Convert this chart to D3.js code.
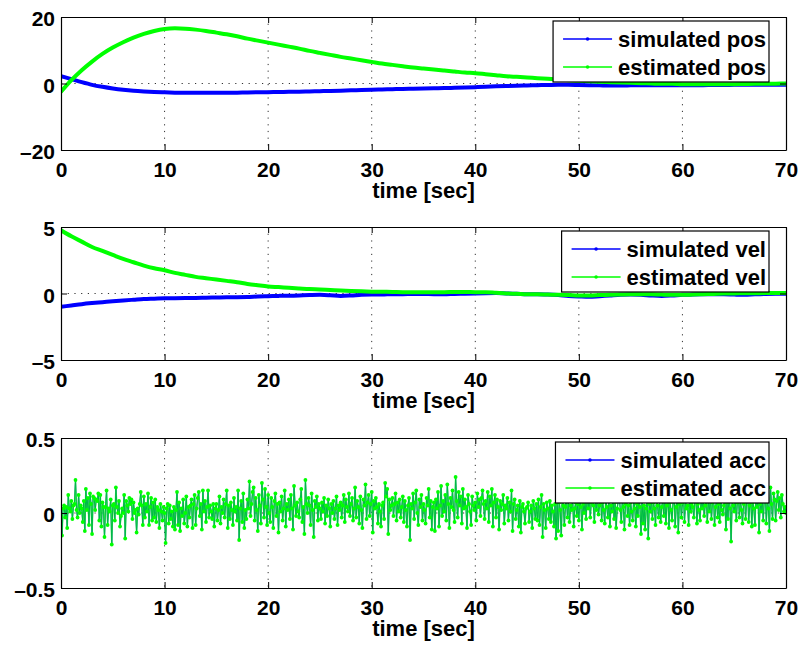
<!DOCTYPE html>
<html>
<head>
<meta charset="utf-8">
<script src="https://cdn.jsdelivr.net/npm/d3@7"></script>
<style>
  html, body { margin: 0; padding: 0; background: #fff; }
  svg { display: block; }
</style>
</head>
<body>
<svg id="chart" width="802" height="648"></svg>
<script>
// ---- data ----------------------------------------------------------------
const xTicks = [0, 10, 20, 30, 40, 50, 60, 70];
const posTicks = [-20, 0, 20];
const velTicks = [-5, 0, 5];
const accTicks = [-0.5, 0, 0.5];

// position / velocity, one sample per second (t = 0 .. 70 s)
const slowStep = 1;
const posSimulated = [2.2, 1.3, 0.4, -0.4, -1.0, -1.5, -1.9, -2.2, -2.4, -2.55,
  -2.65, -2.75, -2.8, -2.8, -2.8, -2.8, -2.8, -2.75, -2.7, -2.65,
  -2.6, -2.55, -2.5, -2.45, -2.4, -2.3, -2.25, -2.15, -2.05, -1.95,
  -1.85, -1.8, -1.7, -1.65, -1.55, -1.5, -1.45, -1.35, -1.3, -1.2,
  -1.1, -1.0, -0.85, -0.75, -0.65, -0.6, -0.5, -0.45, -0.4, -0.4,
  -0.45, -0.5, -0.55, -0.6, -0.6, -0.55, -0.5, -0.5, -0.5, -0.5,
  -0.5, -0.5, -0.5, -0.45, -0.45, -0.4, -0.4, -0.4, -0.35, -0.35, -0.35];
const posEstimated = [-2.5, 1.0, 4.0, 6.6, 8.9, 10.8, 12.4, 13.8, 14.9, 15.8,
  16.4, 16.6, 16.5, 16.2, 15.8, 15.3, 14.8, 14.2, 13.5, 12.9,
  12.3, 11.7, 11.1, 10.5, 9.8, 9.2, 8.6, 8.0, 7.5, 7.0,
  6.5, 6.0, 5.6, 5.2, 4.8, 4.5, 4.2, 3.9, 3.6, 3.3,
  3.1, 2.8, 2.5, 2.2, 2.0, 1.8, 1.6, 1.4, 1.2, 1.0,
  0.8, 0.7, 0.5, 0.4, 0.3, 0.2, 0.1, 0.0, -0.1, -0.1,
  -0.2, -0.2, -0.2, -0.2, -0.2, -0.2, -0.15, -0.1, -0.1, -0.05, 0.0];
const velSimulated = [-1.0, -0.9, -0.8, -0.72, -0.65, -0.58, -0.52, -0.47, -0.42, -0.39,
  -0.36, -0.35, -0.34, -0.33, -0.32, -0.3, -0.28, -0.28, -0.27, -0.22,
  -0.2, -0.18, -0.17, -0.15, -0.12, -0.1, -0.13, -0.18, -0.15, -0.1,
  -0.08, -0.08, -0.05, -0.05, -0.03, -0.04, -0.05, -0.06, -0.03, -0.02,
  0.0, 0.02, 0.03, 0.0, -0.02, -0.05, -0.05, -0.08, -0.12, -0.18,
  -0.22, -0.25, -0.2, -0.15, -0.1, -0.08, -0.1, -0.15, -0.18, -0.15,
  -0.1, -0.08, -0.06, -0.05, -0.05, -0.08, -0.1, -0.06, -0.03, -0.02, -0.02];
const velEstimated = [4.75, 4.3, 3.9, 3.5, 3.2, 2.9, 2.6, 2.35, 2.1, 1.9,
  1.75, 1.55, 1.4, 1.25, 1.15, 1.05, 0.95, 0.85, 0.72, 0.62,
  0.53, 0.48, 0.43, 0.38, 0.33, 0.3, 0.26, 0.23, 0.19, 0.16,
  0.14, 0.13, 0.12, 0.1, 0.1, 0.1, 0.1, 0.1, 0.12, 0.12,
  0.1, 0.1, 0.05, 0.0, -0.02, -0.05, -0.05, -0.08, -0.1, -0.12,
  -0.15, -0.15, -0.12, -0.1, -0.08, -0.05, -0.05, -0.05, -0.08, -0.1,
  -0.1, -0.08, -0.05, -0.03, 0.0, 0.0, 0.02, 0.02, 0.03, 0.03, 0.03];

// acceleration, 10 samples per second (t = 0 .. 70 s)
const fastStep = 0.1;
const accSimulated = [
  -.02,-.15,.03,.05,-.03,.04,-.10,.12,.03,.01,
  .08,-.04,.05,.06,.22,.02,-.03,.12,.00,.05,
  .03,-.06,.08,-.12,.16,.02,.10,-.08,.13,.06,
  -.14,.11,.10,.02,.09,.08,.13,-.05,.12,-.09,
  .07,.04,-.16,.04,.15,-.08,.03,.01,.09,-.21,
  .05,.06,-.05,.17,.04,.00,.08,-.09,-.02,.03,
  .00,.12,-.17,.08,.05,.01,.10,.06,.09,-.04,
  .07,.00,.02,-.13,.03,-.01,.06,.14,.05,-.08,
  .11,-.03,.06,.01,.13,-.08,.04,.10,-.05,.07,
  -.03,.09,-.06,.04,.02,-.10,.06,.01,-.05,.04,
  .00,-.20,.03,.06,-.07,.05,-.04,.01,-.09,.04,
  -.11,.02,.14,-.08,.07,-.12,.03,-.02,.09,-.07,
  .00,.11,-.09,.04,-.03,.05,.09,-.10,.06,.12,
  -.08,.03,.10,.14,-.02,.06,-.11,.15,.01,.08,
  -.06,.04,.15,-.03,.05,.01,-.04,.06,-.09,.03,
  .06,-.05,.02,.11,-.07,.04,.00,.09,-.03,.06,
  .15,-.10,.05,-.04,.07,.02,-.08,.10,.01,.04,
  -.05,.15,-.18,.03,.08,-.06,.13,-.10,.02,-.04,
  .09,.03,.21,-.02,.06,.14,.17,-.05,.10,.02,
  -.12,.12,.05,-.07,.20,.09,-.03,.16,.04,-.08,
  .12,.00,-.06,.10,.04,-.10,.08,.13,-.02,.06,
  -.13,.07,.01,.11,-.05,.03,.15,-.09,.06,.02,
  .09,-.04,.12,.03,-.11,.18,.05,-.02,.07,.01,
  -.03,.09,.16,-.06,.04,-.14,.22,.06,.00,.10,
  .05,-.08,.13,.02,-.16,.08,.04,.11,-.05,.06,
  .03,-.04,.07,.01,.10,-.07,.05,-.02,.09,.03,
  -.09,.06,.00,.08,-.04,.03,.11,-.08,.05,.02,
  .07,-.03,.05,.12,-.06,.09,.04,.01,.13,-.02,
  .06,.10,-.05,.03,.17,-.03,.08,.04,-.07,.11,
  .02,-.10,.09,.05,.19,-.04,.07,.12,-.02,.06,
  .14,-.13,.08,.03,.10,.04,-.07,.06,.01,-.09,
  .05,.07,-.04,.20,.11,.16,-.14,.09,.02,.05,
  .10,-.02,.06,.13,-.05,.07,.01,.09,-.03,.04,
  .11,-.06,.08,.02,-.09,.05,.10,-.18,.06,.03,
  .13,-.04,.07,.15,.00,-.08,.09,.04,.12,-.05,
  .06,.02,-.07,.10,.05,.16,-.03,.08,-.11,.04,
  .07,-.12,.09,.03,.14,-.09,.05,.18,-.02,.08,
  .01,.12,-.05,.19,.06,-.10,.10,.04,.15,.02,
  -.06,.24,.08,-.03,.14,.05,.11,-.07,.16,.03,
  .09,.04,-.10,.12,.06,.01,-.08,.11,.05,.02,
  .07,-.05,.13,.04,.09,-.02,.10,.15,.06,-.04,
  .08,.03,.14,-.06,.11,.05,.16,-.09,.07,.12,
  -.03,.09,.04,-.11,.08,.02,.06,.12,-.07,.05,
  .03,.10,-.05,.07,.01,.15,-.12,.06,.09,-.04,
  .02,.05,-.09,.08,-.13,.04,.06,.01,-.07,.03,
  .04,.07,-.06,.01,.05,-.10,.08,.03,-.04,.06,
  -.05,.09,-.08,.04,.12,-.16,.06,.02,-.10,.07,
  .03,-.04,.08,-.06,.05,.01,-.09,.06,-.17,.10,
  -.12,.07,.02,-.15,.10,.05,-.08,.04,.11,-.03,
  .08,-.06,.05,.02,.10,-.09,.03,.07,-.02,.06,
  -.05,.10,.04,-.11,.06,.00,.08,-.04,.13,.03,
  .11,-.03,.07,.16,.05,-.06,.09,.02,.12,-.01,
  .05,.14,-.05,.07,.02,-.07,.10,.04,-.03,.08,
  -.09,.05,.01,.11,-.04,.07,-.10,.03,.08,.12,
  .02,-.06,.09,.04,-.11,.06,.13,-.02,.05,-.08,
  .07,.01,-.05,.10,.03,-.09,.06,-.02,.11,.04,
  -.14,.08,-.07,.05,-.11,.03,.09,-.17,.06,.01,
  .10,-.04,.07,.03,-.08,.11,.05,-.03,.08,-.06,
  .04,.09,-.02,.12,-.07,.05,.14,-.10,.07,.02,
  -.05,.08,.11,-.09,.04,.15,-.13,.06,.10,-.03,
  .07,.12,-.06,.09,.03,.05,-.08,.12,.01,.06,
  .04,-.03,.08,.11,-.07,.06,.02,-.05,.09,.03,
  .10,-.02,.05,.13,-.06,.08,.01,.11,-.04,.07,
  .12,-.08,.04,.09,-.03,.06,-.06,.10,.02,-.01,
  .05,.09,-.11,.07,-.04,.12,.03,-.19,.08,.05,
  .01,.10,-.05,.07,.13,-.03,.09,.02,-.07,.06,
  .11,-.04,.08,.14,-.06,.05,.10,-.09,.07,.03,
  -.08,.12,.04,.09,-.13,.06,.01,.11,-.05,.08,
  .15,-.07,.10,.03,-.12,.17,.06,-.04,.13,.09,
  -.05,.08,.14,.02,.10,-.03,.12,.06,.01,.04,
  .00];
// the estimator follows the simulated acceleration sample for sample
const accEstimated = accSimulated.slice();

// ---- drawing ---------------------------------------------------------------
const FONT = "'Liberation Sans', Arial, Helvetica, sans-serif";
const BLUE = "#0000ff", GREEN = "#00ff00";
const svg = d3.select("#chart");

const x = d3.scaleLinear().domain([0, 70]).range([61, 786]);
const fmt = d => (d < 0 ? "\u2013" + Math.abs(d) : String(d));

function panel(opt) {
  const g = svg.append("g");
  const y = d3.scaleLinear().domain(opt.domain).range([opt.bottom, opt.top]);
  const clipId = "clip-" + opt.name;
  g.append("clipPath").attr("id", clipId).append("rect")
    .attr("x", x(0)).attr("y", opt.top).attr("width", x(70) - x(0)).attr("height", opt.bottom - opt.top);

  // dotted grid at interior ticks
  g.selectAll(".vgrid").data(xTicks.slice(1, -1)).join("line")
    .attr("x1", d => x(d)).attr("x2", d => x(d)).attr("y1", opt.top).attr("y2", opt.bottom)
    .attr("stroke", "#333").attr("stroke-width", 1).attr("stroke-dasharray", "1.2,5.5");
  g.selectAll(".hgrid").data(opt.ticks.slice(1, -1)).join("line")
    .attr("x1", x(0)).attr("x2", x(70)).attr("y1", d => y(d)).attr("y2", d => y(d))
    .attr("stroke", "#333").attr("stroke-width", 1).attr("stroke-dasharray", "1.2,5.5");

  // series
  const plot = g.append("g").attr("clip-path", `url(#${clipId})`);
  opt.series.forEach(s => {
    const line = d3.line().x((d, i) => x(i * s.step)).y(d => y(d));
    if (s.curve) line.curve(s.curve);
    plot.append("path").datum(s.values)
      .attr("fill", "none").attr("stroke", s.color).attr("stroke-width", s.width)
      .attr("stroke-opacity", s.opacity || 1)
      .attr("stroke-linejoin", "round").attr("stroke-linecap", "round")
      .attr("d", line);
    if (s.markers) {
      plot.append("g").selectAll("circle").data(s.values).join("circle")
        .attr("cx", (d, i) => x(i * s.step)).attr("cy", d => y(d)).attr("r", 1.9)
        .attr("fill", s.markers);
    }
  });

  // axes with inward ticks on all four sides
  const styleAxis = sel => {
    sel.attr("font-family", FONT).attr("font-size", 21).attr("font-weight", "bold");
    sel.select(".domain").attr("stroke", "#000").attr("stroke-width", 1.2);
    sel.selectAll(".tick line").attr("stroke", "#000");
    sel.selectAll(".tick text").attr("fill", "#000");
  };
  g.append("g").attr("transform", `translate(0,${opt.bottom})`)
    .call(d3.axisBottom(x).tickValues(xTicks).tickFormat(fmt).tickSizeInner(-6).tickSizeOuter(0).tickPadding(12))
    .call(styleAxis);
  g.append("g").attr("transform", `translate(0,${opt.top})`)
    .call(d3.axisTop(x).tickValues(xTicks).tickFormat("").tickSizeInner(-6).tickSizeOuter(0))
    .call(styleAxis);
  g.append("g").attr("transform", `translate(${x(0)},0)`)
    .call(d3.axisLeft(y).tickValues(opt.ticks).tickFormat(fmt).tickSizeInner(-6).tickSizeOuter(0).tickPadding(6))
    .call(styleAxis)
    .selectAll(".tick text").attr("dy", "0.42em");
  g.append("g").attr("transform", `translate(${x(70)},0)`)
    .call(d3.axisRight(y).tickValues(opt.ticks).tickFormat("").tickSizeInner(-6).tickSizeOuter(0))
    .call(styleAxis);

  // x-axis title
  g.append("text").attr("x", (x(0) + x(70)) / 2).attr("y", opt.bottom + 48)
    .attr("text-anchor", "middle").attr("font-family", FONT).attr("font-size", 22)
    .attr("font-weight", "bold").attr("fill", "#000").text("time [sec]");

  // legend box, top-right
  const lg = g.append("g");
  const box = lg.append("rect").attr("fill", "#fff").attr("stroke", "#000").attr("stroke-width", 1.2);
  const texts = opt.series.map((s, i) => lg.append("text")
    .attr("y", opt.legendTop + 18 + i * 28).attr("dy", "0.36em")
    .attr("font-family", FONT).attr("font-size", 22).attr("font-weight", "bold")
    .attr("fill", "#000").text(s.label));
  const maxW = d3.max(texts, t => t.node().getComputedTextLength());
  const right = 769;
  const textX = right - 3 - maxW;
  const left = textX - 65;
  texts.forEach(t => t.attr("x", textX));
  box.attr("x", left).attr("y", opt.legendTop).attr("width", right - left).attr("height", 61);
  opt.series.forEach((s, i) => {
    const yy = opt.legendTop + 18 + i * 28;
    lg.append("line").attr("x1", left + 10).attr("x2", left + 59).attr("y1", yy).attr("y2", yy)
      .attr("stroke", s.color).attr("stroke-width", 1.3);
    lg.append("circle").attr("cx", left + 34.5).attr("cy", yy).attr("r", 1.8).attr("fill", s.color);
  });
}

panel({
  name: "pos", domain: [-20, 20], ticks: posTicks, top: 17, bottom: 150, legendTop: 21,
  series: [
    { label: "simulated pos", values: posSimulated, step: slowStep, color: BLUE, width: 4, curve: d3.curveMonotoneX },
    { label: "estimated pos", values: posEstimated, step: slowStep, color: GREEN, width: 4, curve: d3.curveMonotoneX }
  ]
});

panel({
  name: "vel", domain: [-5, 5], ticks: velTicks, top: 227, bottom: 360, legendTop: 231,
  series: [
    { label: "simulated vel", values: velSimulated, step: slowStep, color: BLUE, width: 4, curve: d3.curveMonotoneX },
    { label: "estimated vel", values: velEstimated, step: slowStep, color: GREEN, width: 4, curve: d3.curveMonotoneX }
  ]
});

panel({
  name: "acc", domain: [-0.5, 0.5], ticks: accTicks, top: 438, bottom: 588, legendTop: 442,
  series: [
    { label: "simulated acc", values: accSimulated, step: fastStep, color: BLUE, width: 1 },
    { label: "estimated acc", values: accEstimated, step: fastStep, color: GREEN, width: 1.5, opacity: 0.72, markers: GREEN }
  ]
});
</script>
</body>
</html>
